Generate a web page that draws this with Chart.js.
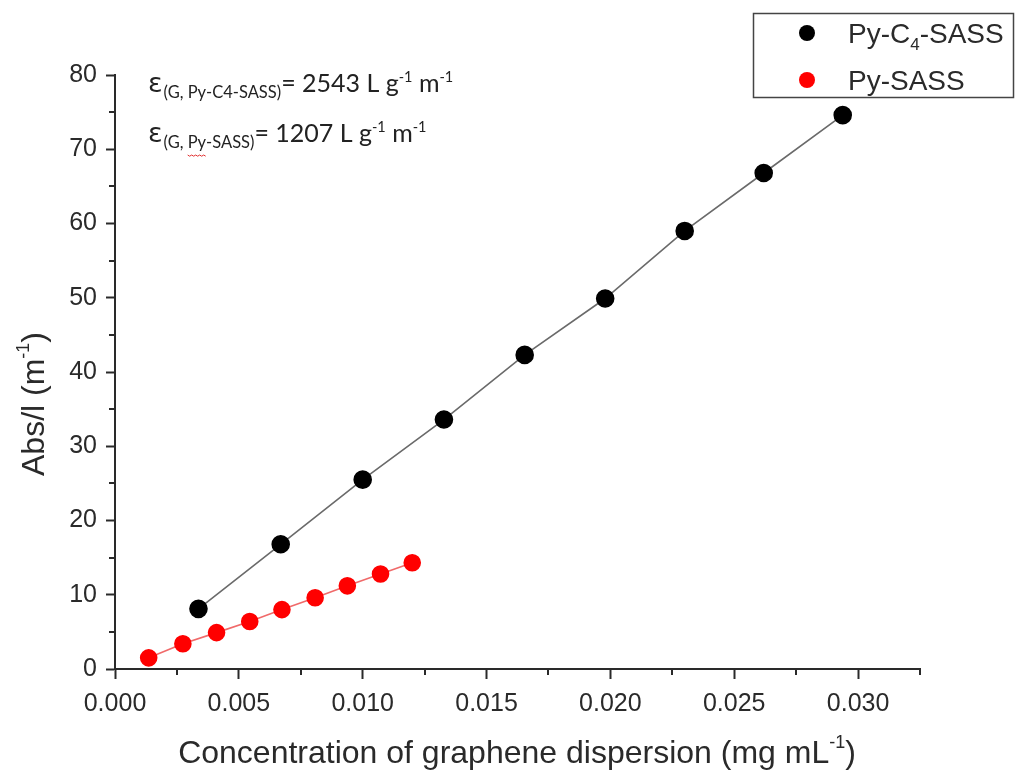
<!DOCTYPE html>
<html>
<head>
<meta charset="utf-8">
<script src="https://cdn.jsdelivr.net/npm/chart.js@4.4.0/dist/chart.umd.min.js"></script>
<style>
  html, body { margin: 0; padding: 0; background: #fff; }
  #wrap { width: 1016px; height: 772px; }
</style>
</head>
<body>
<div id="wrap"><canvas id="absChart" width="1016" height="772"></canvas></div>
<script>
// data
const seriesNames = ['Py-C4-SASS', 'Py-SASS'];
const c4Conc = [0.00337, 0.00669, 0.0100, 0.01328, 0.01654, 0.01979, 0.0230, 0.02619, 0.02938];
const c4Abs = [8.1, 16.8, 25.5, 33.6, 42.3, 49.9, 59.0, 66.8, 74.6];
const pyConc = [0.00136, 0.00274, 0.0041, 0.00544, 0.00674, 0.00808, 0.00938, 0.01072, 0.0120];
const pyAbs = [1.5, 3.4, 4.9, 6.4, 8.0, 9.6, 11.2, 12.8, 14.3];
const xStep = 0.0025;   // minor step, labels every 2nd
const yStep = 5;
const epsLines = [
  ['(G, Py-C4-SASS)', '2543'],
  ['(G, Py-SASS)', '1207']
];

const axisFont = "'Liberation Sans', Arial, sans-serif";
const noteFont = "Lato, 'DejaVu Sans', sans-serif";
const ink = '#2a2a2a';

function toPts(xs, ys) {
  return xs.map((x, i) => ({ x: x, y: ys[i] }));
}

// draw a row of text pieces [text, font, dy] one after another
function drawRuns(ctx, runs, x, y) {
  let cx = x;
  runs.forEach(r => {
    ctx.font = r[1];
    ctx.fillText(r[0], cx, y + (r[2] || 0));
    cx += ctx.measureText(r[0]).width;
  });
  return cx;
}
function runsWidth(ctx, runs) {
  let w = 0;
  runs.forEach(r => { ctx.font = r[1]; w += ctx.measureText(r[0]).width; });
  return w;
}

const decor = {
  id: 'decor',
  afterDraw(chart) {
    const ctx = chart.ctx;
    const xs = chart.scales.x, ys = chart.scales.y;
    ctx.save();

    // minor ticks
    ctx.strokeStyle = ink;
    ctx.lineWidth = 2;
    ctx.beginPath();
    xs.ticks.forEach(t => {
      if (Math.round(t.value / xStep) % 2 === 1) {
        const px = Math.round(xs.getPixelForValue(t.value));
        ctx.moveTo(px, ys.bottom);
        ctx.lineTo(px, ys.bottom + 6);
      }
    });
    ys.ticks.forEach(t => {
      if (Math.round(t.value / yStep) % 2 === 1) {
        const py = Math.round(ys.getPixelForValue(t.value));
        ctx.moveTo(xs.left, py);
        ctx.lineTo(xs.left - 6, py);
      }
    });
    ctx.stroke();

    // axis titles
    ctx.fillStyle = ink;
    ctx.textBaseline = 'alphabetic';
    ctx.textAlign = 'left';
    const big = '32px ' + axisFont, sup = '18px ' + axisFont;
    const xt = [['Concentration of graphene dispersion (mg mL', big, 0], ['-1', sup, -15], [')', big, 0]];
    drawRuns(ctx, xt, 517 - runsWidth(ctx, xt) / 2, 763);

    const yt = [['Abs/l (m', big, 0], ['-1', sup, -15], [')', big, 0]];
    ctx.save();
    ctx.translate(44, 404);
    ctx.rotate(-Math.PI / 2);
    drawRuns(ctx, yt, -runsWidth(ctx, yt) / 2, 0);
    ctx.restore();

    // epsilon notes
    ctx.fillStyle = '#222';
    const nEps = "27px 'DejaVu Sans', sans-serif";
    const nMain = '25px ' + noteFont, nSub = '16.5px ' + noteFont, nSup = '14.5px ' + noteFont;
    epsLines.forEach((ln, i) => {
      const base = 92 + i * 50;
      const x0 = 148;
      const xSub = drawRuns(ctx, [['\u03b5', nEps, 0]], x0, base) + 1;
      drawRuns(ctx, [
        [ln[0], nSub, 6], ['= ' + ln[1] + ' L g', nMain, 0],
        ['-1', nSup, -10], [' m', nMain, 0], ['-1', nSup, -10]
      ], xSub, base);
      if (i === 1) {
        // spell-check squiggle under "Py"
        ctx.font = nSub;
        const sx = xSub + ctx.measureText('(G, ').width;
        const sw = ctx.measureText('Py').width;
        ctx.strokeStyle = '#e03030';
        ctx.lineWidth = 1;
        ctx.beginPath();
        for (let k = 0; k <= sw; k += 2) {
          const yy = base + 13 + (k % 4 === 0 ? 0 : 1.2);
          if (k === 0) ctx.moveTo(sx + k, yy); else ctx.lineTo(sx + k, yy);
        }
        ctx.stroke();
      }
    });

    // legend
    ctx.strokeStyle = '#444';
    ctx.lineWidth = 1.5;
    ctx.strokeRect(753.5, 13.5, 260, 84);
    const legFont = '28px ' + axisFont, legSub = '17px ' + axisFont;
    const rows = [
      [[['Py-C', legFont, 0], ['4', legSub, 7], ['-SASS', legFont, 0]], 33],
      [[['Py-SASS', legFont, 0]], 80]
    ];
    rows.forEach((row, i) => {
      const ds = chart.data.datasets[i];
      ctx.fillStyle = ds.pointBackgroundColor;
      ctx.beginPath();
      ctx.arc(807, row[1], 8, 0, Math.PI * 2);
      ctx.fill();
      ctx.fillStyle = ink;
      drawRuns(ctx, row[0], 848, row[1] + 10);
    });

    ctx.restore();
  }
};

const tickFont = { family: axisFont, size: 25 };

new Chart(document.getElementById('absChart').getContext('2d'), {
  type: 'scatter',
  data: {
    datasets: [
      {
        label: seriesNames[0],
        data: toPts(c4Conc, c4Abs),
        showLine: true,
        borderColor: '#6a6a6a',
        borderWidth: 1.6,
        pointBackgroundColor: '#000000',
        pointBorderColor: '#000000',
        pointRadius: 8.5,
        pointHoverRadius: 8.5,
        clip: false
      },
      {
        label: seriesNames[1],
        data: toPts(pyConc, pyAbs),
        showLine: true,
        borderColor: '#f06a6a',
        borderWidth: 1.6,
        pointBackgroundColor: '#ff0000',
        pointBorderColor: '#ff0000',
        pointRadius: 8,
        pointHoverRadius: 8,
        clip: false
      }
    ]
  },
  options: {
    responsive: false,
    animation: false,
    layout: { padding: { left: 0, top: 75, right: 96, bottom: 0 } },
    plugins: { legend: { display: false }, tooltip: { enabled: false } },
    scales: {
      x: {
        type: 'linear',
        min: 0,
        max: 0.0325,
        afterFit: s => { s.height = 103; },
        border: { color: ink, width: 2 },
        grid: {
          drawOnChartArea: false,
          tickLength: 10,
          tickWidth: 2,
          tickColor: c => (c.tick && Math.round(c.tick.value / xStep) % 2 === 0) ? ink : 'rgba(0,0,0,0)'
        },
        ticks: {
          stepSize: xStep,
          autoSkip: false,
          maxRotation: 0,
          color: ink,
          font: tickFont,
          padding: 10,
          callback: v => {
            const k = Math.round(v / xStep);
            return k % 2 === 0 ? (k * xStep).toFixed(3) : '';
          }
        }
      },
      y: {
        min: 0,
        max: 80,
        afterFit: s => { s.width = 115; },
        border: { color: ink, width: 2 },
        grid: {
          drawOnChartArea: false,
          tickLength: 9,
          tickWidth: 2,
          tickColor: c => (c.tick && Math.round(c.tick.value / yStep) % 2 === 0) ? ink : 'rgba(0,0,0,0)'
        },
        ticks: {
          stepSize: yStep,
          autoSkip: false,
          color: ink,
          font: tickFont,
          padding: 9,
          callback: v => (Math.round(v / yStep) % 2 === 0 ? String(Math.round(v)) : '')
        }
      }
    }
  },
  plugins: [decor]
});
</script>
</body>
</html>
